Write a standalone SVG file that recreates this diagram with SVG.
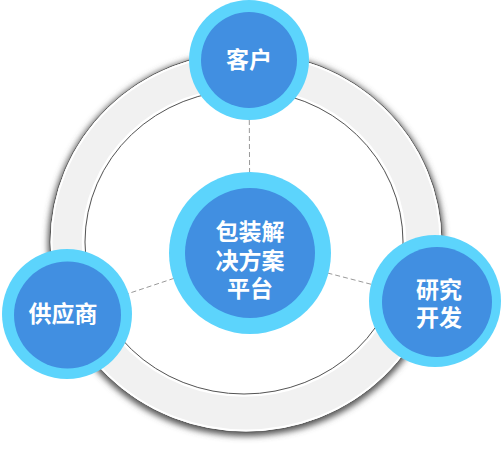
<svg xmlns="http://www.w3.org/2000/svg" width="502" height="449" viewBox="0 0 502 449">
<style>
.outer{fill:#5CD4FC}
.inner{fill:#418FE1}
.lbl{fill:#fff;font-family:"Noto Sans CJK SC","Noto Sans",sans-serif;font-weight:bold;font-size:23px;text-anchor:middle;dominant-baseline:central}
.conn{stroke:#9a9a9a;stroke-width:1;stroke-dasharray:5 3;fill:none}
</style>
<defs>
<filter id="sh" x="-10%" y="-10%" width="120%" height="120%"><feGaussianBlur stdDeviation="3"/></filter>
</defs>
<g id="ring">
<ellipse cx="246" cy="244" rx="198" ry="192" fill="#555" filter="url(#sh)"/>
<ellipse cx="246" cy="242" rx="196" ry="190" fill="#f1f1f1" stroke="#555" stroke-width="1"/>
<ellipse cx="246" cy="242" rx="194.5" ry="188.5" fill="none" stroke="#fff" stroke-width="2"/>
<ellipse cx="244" cy="242" rx="161" ry="153.5" fill="none" stroke="#fff" stroke-width="2.5"/>
<ellipse cx="244" cy="242" rx="159" ry="152" fill="#fff" stroke="#555" stroke-width="1"/>
</g>
<g id="connectors">
<line class="conn" x1="250" y1="253" x2="249" y2="60"/>
<line class="conn" x1="250" y1="253" x2="67" y2="314"/>
<line class="conn" x1="250" y1="253" x2="436" y2="301"/>
</g>
<g id="center">
<circle class="outer" cx="250" cy="253" r="81"/>
<circle class="inner" cx="250" cy="253" r="65"/>
<text class="lbl"><tspan x="250" y="230">包装解</tspan><tspan x="250" y="258.5">决方案</tspan><tspan x="250" y="287">平台</tspan></text>
</g>
<g id="customer">
<circle class="outer" cx="249" cy="60" r="60"/>
<circle class="inner" cx="249" cy="60" r="48"/>
<text class="lbl" x="249" y="58">客户</text>
</g>
<g id="supplier">
<circle class="outer" cx="67" cy="314" r="65"/>
<circle class="inner" cx="67.5" cy="315" r="53.5"/>
<text class="lbl" x="63" y="312">供应商</text>
</g>
<g id="rnd">
<circle class="outer" cx="435" cy="301" r="66"/>
<circle class="inner" cx="437" cy="302" r="55"/>
<text class="lbl"><tspan x="439" y="288">研究</tspan><tspan x="439" y="316">开发</tspan></text>
</g>
</svg>
